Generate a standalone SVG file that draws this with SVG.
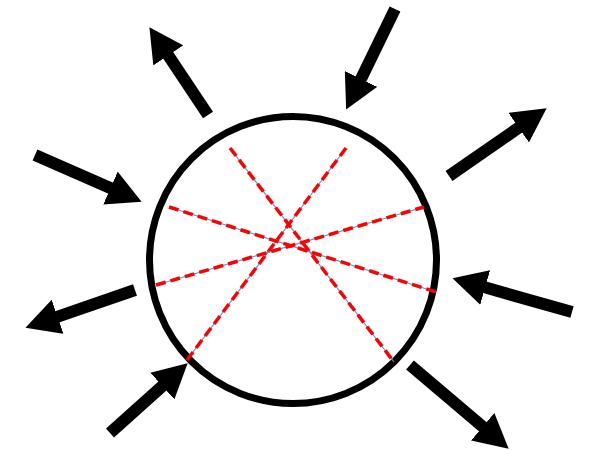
<svg xmlns="http://www.w3.org/2000/svg" width="593" height="450" viewBox="0 0 593 450">
<style>
.arrow{stroke:#000;stroke-width:12;fill:none;stroke-linecap:butt;marker-end:url(#head)}
.ray{stroke:#5b9bd5;stroke-width:1.2;fill:none}
.dash{stroke:#ff0000;stroke-width:3.5;fill:none;stroke-dasharray:10 5}
</style>
<defs>
<marker id="head" markerUnits="userSpaceOnUse" markerWidth="35" markerHeight="36" viewBox="0 0 35 36" refX="0.5" refY="18" orient="auto">
<path d="M0,0 L34,18 L0,36 Z" fill="#000"/>
</marker>
</defs>
<rect width="593" height="450" fill="#fff"/>
<g id="circle">
<circle cx="293" cy="260" r="143.5" fill="none" stroke="#000" stroke-width="7"/>
</g>
<g id="rays">
<line class="ray" x1="230" y1="148" x2="394" y2="362"/>
<line class="dash" x1="230" y1="148" x2="394" y2="362"/>
<line class="ray" x1="346" y1="148" x2="187" y2="360"/>
<line class="dash" x1="346" y1="148" x2="187" y2="360"/>
<line class="ray" x1="169" y1="207" x2="436" y2="292"/>
<line class="dash" x1="169" y1="207" x2="436" y2="292"/>
<line class="ray" x1="156" y1="285" x2="424" y2="207"/>
<line class="dash" x1="156" y1="285" x2="424" y2="207"/>
</g>
<g id="connectors">
<line class="arrow" x1="208" y1="115" x2="168" y2="55"/>
<line class="arrow" x1="395" y1="9" x2="360.8" y2="79.4"/>
<line class="arrow" x1="449" y1="176" x2="519.1" y2="127.4"/>
<line class="arrow" x1="35" y1="155" x2="110.9" y2="188.3"/>
<line class="arrow" x1="572" y1="312" x2="484.7" y2="287.3"/>
<line class="arrow" x1="135" y1="290" x2="57.1" y2="316.9"/>
<line class="arrow" x1="110" y1="433" x2="162.7" y2="385.7"/>
<line class="arrow" x1="410" y1="365" x2="483.1" y2="427"/>
</g>
</svg>
